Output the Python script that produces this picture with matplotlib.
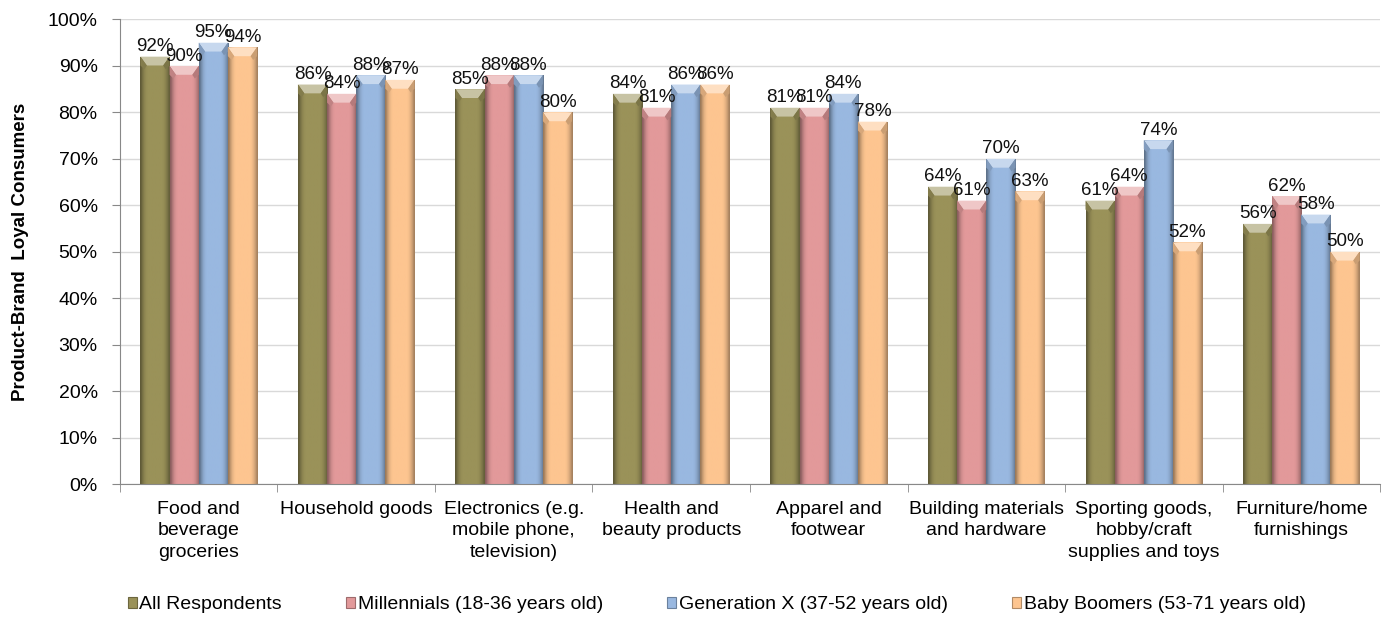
import numpy as np
import matplotlib
matplotlib.use("Agg")
import matplotlib.pyplot as plt
from matplotlib.patches import Polygon, Rectangle
from matplotlib.colors import to_rgb

plt.rcParams['font.family'] = ['Liberation Sans', 'DejaVu Sans']

categories = [
    "Food and\nbeverage\ngroceries",
    "Household goods",
    "Electronics (e.g.\nmobile phone,\ntelevision)",
    "Health and\nbeauty products",
    "Apparel and\nfootwear",
    "Building materials\nand hardware",
    "Sporting goods,\nhobby/craft\nsupplies and toys",
    "Furniture/home\nfurnishings",
]
series_names = [
    "All Respondents",
    "Millennials (18-36 years old)",
    "Generation X (37-52 years old)",
    "Baby Boomers (53-71 years old)",
]
all_respondents = [92, 86, 85, 84, 81, 64, 61, 56]
millennials = [90, 84, 88, 81, 81, 61, 64, 62]
generation_x = [95, 88, 88, 86, 84, 70, 74, 58]
baby_boomers = [94, 87, 80, 86, 78, 63, 52, 50]
series_values = [all_respondents, millennials, generation_x, baby_boomers]
colors = ["#9a9259", "#e2999a", "#99b8e0", "#fdc590"]

fig = plt.figure(figsize=(13.82, 6.21), dpi=100)
ax = fig.add_axes([0.0868, 0.2206, 0.9118, 0.748])

x = np.arange(len(categories))
width = 0.185
offsets = (np.arange(4) - 1.5) * width


def shade(rgb, f):
    r = np.array(rgb)
    if f < 1:
        return r * f
    return r + (1 - r) * (f - 1)


for vals, col, name, off in zip(series_values, colors, series_names, offsets):
    bars = ax.bar(x + off, vals, width, color=col, label=name, zorder=2,
                  edgecolor='none')
    base = to_rgb(col)
    # horizontal cylinder-like shading across each bar
    prof = np.array([0.62, 0.78, 0.9, 0.97, 1.0, 1.0, 1.0, 1.0, 1.0, 1.0,
                     1.0, 1.0, 1.0, 0.97, 0.9, 0.8, 0.66])
    row = np.array([shade(base, f) for f in prof])[None, :, :]
    for b in bars:
        bx, bw, bh = b.get_x(), b.get_width(), b.get_height()
        im = ax.imshow(row, extent=[bx, bx + bw, 0, bh], aspect='auto',
                       zorder=2.1, interpolation='bilinear')
        im.set_clip_path(b)
        # bevelled top face
        bev = 1.9
        inset = bw * 0.22
        top = Polygon([[bx, bh], [bx + bw, bh], [bx + bw - inset, bh - bev],
                       [bx + inset, bh - bev]], closed=True,
                      facecolor=shade(base, 1.45), edgecolor='none', zorder=2.2)
        ax.add_patch(top)
        left = Polygon([[bx, bh], [bx + inset, bh - bev], [bx + inset * 0.6, bh - bev - 0.8],
                        [bx, bh - bev]], closed=True,
                       facecolor=shade(base, 0.85), edgecolor='none', zorder=2.2)
        ax.add_patch(left)
        right = Polygon([[bx + bw, bh], [bx + bw - inset, bh - bev],
                         [bx + bw - inset * 0.6, bh - bev - 0.8], [bx + bw, bh - bev]],
                        closed=True, facecolor=shade(base, 0.8), edgecolor='none',
                        zorder=2.2)
        ax.add_patch(right)
    ax.bar_label(bars, labels=[f"{v}%" for v in vals], padding=1,
                 fontsize=13.5, color='#111111', zorder=5)

ax.set_xlim(-0.5, len(categories) - 0.5)
ax.set_ylim(0, 100)
ax.set_yticks(np.arange(0, 101, 10))
ax.set_yticklabels([f"{v}%" for v in range(0, 101, 10)], fontsize=14)
ax.set_xticks(x)
ax.set_xticklabels(categories, fontsize=14, linespacing=1.35)
ax.set_xticks(np.arange(-0.5, len(categories), 1), minor=True)
ax.tick_params(axis='x', which='major', length=0, pad=12)
ax.tick_params(axis='x', which='minor', length=6, color='#888888')
ax.tick_params(axis='y', length=6, color='#888888', pad=10)
ax.yaxis.grid(True, color='#d9d9d9', linewidth=1, zorder=0)
ax.set_axisbelow(True)
for s in ['top', 'right']:
    ax.spines[s].set_visible(False)
for s in ['left', 'bottom']:
    ax.spines[s].set_color('#888888')
    ax.spines[s].set_zorder(3)

ax.set_ylabel("Product-Brand  Loyal Consumers", fontsize=13.5,
              fontweight='bold')
ax.yaxis.set_label_coords(-0.0725, 0.5)

handles = [Rectangle((0, 0), 1, 1, facecolor=c, edgecolor=shade(to_rgb(c), 0.7),
                     linewidth=0.8) for c in colors]
fig.legend(handles, series_names, loc='center left', bbox_to_anchor=(0.0798, 0.026),
           ncol=4, frameon=False, fontsize=14, handlelength=0.45,
           handleheight=0.45, handletextpad=0.15, columnspacing=3.3)

fig.savefig("out.png", dpi=100)
